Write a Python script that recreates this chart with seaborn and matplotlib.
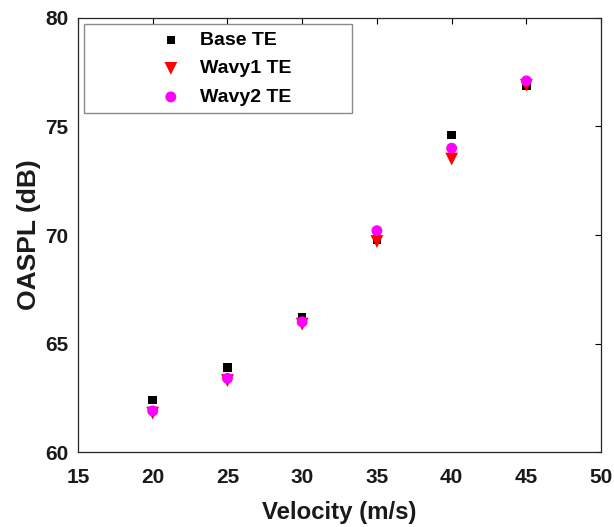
import pandas as pd
import numpy as np
import matplotlib
matplotlib.use('Agg')
import matplotlib.pyplot as plt
import seaborn as sns

# velocidades y niveles
velocity = [20, 25, 30, 35, 40, 45]
base_te = [62.4, 63.9, 66.2, 69.8, 74.6, 76.9]
wavy1_te = [61.8, 63.3, 65.9, 69.7, 73.5, 76.9]
wavy2_te = [61.9, 63.4, 66.0, 70.2, 74.0, 77.1]

series = ['Base TE', 'Wavy1 TE', 'Wavy2 TE']
df = pd.DataFrame({
    'Velocity': velocity * 3,
    'OASPL': base_te + wavy1_te + wavy2_te,
    'Caso': np.repeat(series, len(velocity)),
})

sns.set_style('white')
plt.rcParams['font.family'] = ['Liberation Sans', 'DejaVu Sans']
plt.rcParams['font.weight'] = 'bold'

fig = plt.figure(figsize=(6.14, 5.27), dpi=100)
ax = fig.add_axes([0.127, 0.142, 0.852, 0.824])

estilos = {
    'Base TE': dict(marker='s', color='black', s=38),
    'Wavy1 TE': dict(marker='v', color='red', s=85),
    'Wavy2 TE': dict(marker='o', color='#ff00ff', s=62),
}
for caso in series:
    sub = df[df['Caso'] == caso]
    sns.scatterplot(data=sub, x='Velocity', y='OASPL', ax=ax, label=caso,
                    edgecolor='none', zorder=3, **estilos[caso])

ax.set_xlim(15, 50)
ax.set_ylim(60, 80)
ax.set_xticks(range(15, 51, 5))
ax.set_yticks(range(60, 81, 5))
ax.tick_params(direction='in', top=True, right=True, length=4, width=0.8,
               labelsize=15, colors='black', labelcolor='#1a1a1a')
ax.tick_params(axis='x', pad=11.5)
ax.tick_params(axis='y', pad=7)
for lab in ax.get_xticklabels() + ax.get_yticklabels():
    lab.set_fontweight('bold')
for sp in ax.spines.values():
    sp.set_color('#262626')
    sp.set_linewidth(0.9)

ax.set_xlabel('Velocity (m/s)', fontsize=17.3, fontweight='bold', color='#1a1a1a', labelpad=10)
ax.set_ylabel('OASPL (dB)', fontsize=19, fontweight='bold', color='#1a1a1a', labelpad=3)

leg = ax.legend(loc='upper left', bbox_to_anchor=(0.011, 0.783, 0.513, 0.203),
                mode='expand', fancybox=False, frameon=True, fontsize=14,
                handlelength=8.2, handletextpad=-2.6, borderpad=0.38,
                labelspacing=0.56, borderaxespad=0)
leg.get_frame().set_edgecolor('#6e6e6e')
leg.get_frame().set_linewidth(1.0)
for t in leg.get_texts():
    t.set_fontweight('bold')
    t.set_color('black')

plt.savefig('out.png', dpi=100)
